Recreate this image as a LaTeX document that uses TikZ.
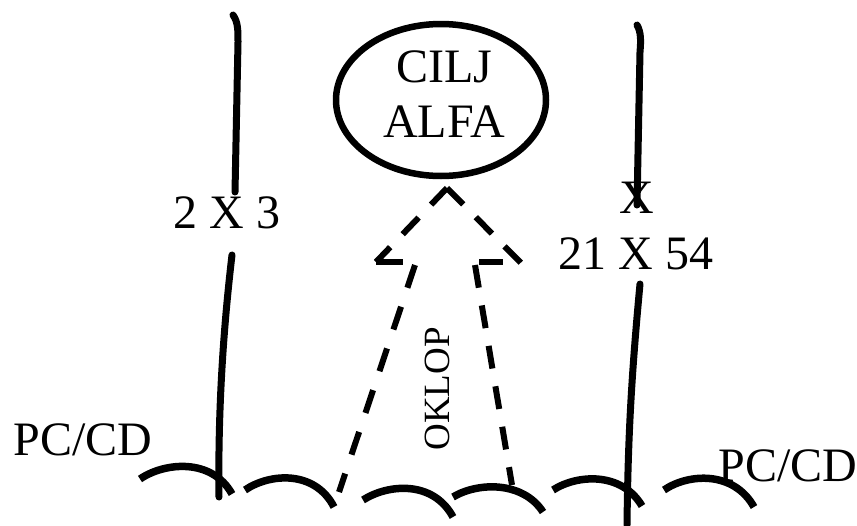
\documentclass[tikz,border=0pt]{standalone}
\usepackage{fontspec}
\setmainfont{Liberation Serif}
\usetikzlibrary{shapes.geometric}
\begin{document}
\begin{tikzpicture}[x=1pt,y=-1pt,
  stroke/.style={line width=7pt,line cap=round,line join=round},
  arcline/.style={line width=7.5pt,line cap=butt},
  lbl/.style={font=\fontsize{48}{55}\selectfont,inner sep=0pt},
  headdash/.style={line width=6pt,dash pattern=on 23pt off 18pt,line cap=butt},
  shaftdash/.style={line width=6pt,dash pattern=on 24pt off 20pt,line cap=butt},
  shoulder/.style={line width=6pt,line cap=butt}]
\useasboundingbox (0,0) rectangle (857,525);
% goal ellipse
\node[draw,ellipse,line width=6.5pt,minimum width=210pt,minimum height=152pt,inner sep=0pt] (goal) at (441,100) {};
\node[lbl,align=center] (goaltext) at (444,94) {CILJ\\ALFA};
% vertical lines
\draw[stroke] (233,15) .. controls (238,22) and (238,30) .. (238,42) -- (235,192);
\draw[stroke] (232,255) .. controls (222,340) and (218,420) .. (219,497);
\draw[stroke] (637,25) .. controls (641,32) and (641,40) .. (640,52) -- (637,205);
\draw[stroke] (640,284) .. controls (631,380) and (628,440) .. (627,525);
% labels
\node[lbl] (lab23) at (227,213) {2 X 3};
\node[lbl] (labx) at (637,198) {X};
\node[lbl] (lab2154) at (636,254) {21 X 54};
\node[lbl] (pcl) at (83,440) {PC/CD};
\node[lbl] (pcr) at (788,466) {PC/CD};
\node[font=\fontsize{37}{40}\selectfont,inner sep=0pt,rotate=90] (oklop) at (437,389) {OKLOP};
% dashed arrow
\coordinate (tip) at (447,188);
\coordinate (lc) at (376,262);
\coordinate (rc) at (522,264);
\draw[headdash] (tip) -- (lc);
\draw[headdash] (tip) -- (rc);
\draw[shoulder] (376,262) -- (403,262);
\draw[shoulder] (479,262) -- (503,262);
\draw[shaftdash] (415,265) -- (339,492);
\draw[headdash] (475,265) -- (512,485);
% bottom arcs
\draw[arcline] (140,479) .. controls (165,462) and (212,458) .. (232,494);
\draw[arcline] (245,490) .. controls (270,473) and (315,470) .. (334,507);
\draw[arcline] (363,500) .. controls (388,484) and (433,480) .. (453,517);
\draw[arcline] (453,497) .. controls (478,482) and (523,481) .. (543,512);
\draw[arcline] (553,490) .. controls (578,474) and (622,472) .. (642,506);
\draw[arcline] (664,490) .. controls (689,473) and (734,471) .. (754,507);
\end{tikzpicture}
\end{document}
